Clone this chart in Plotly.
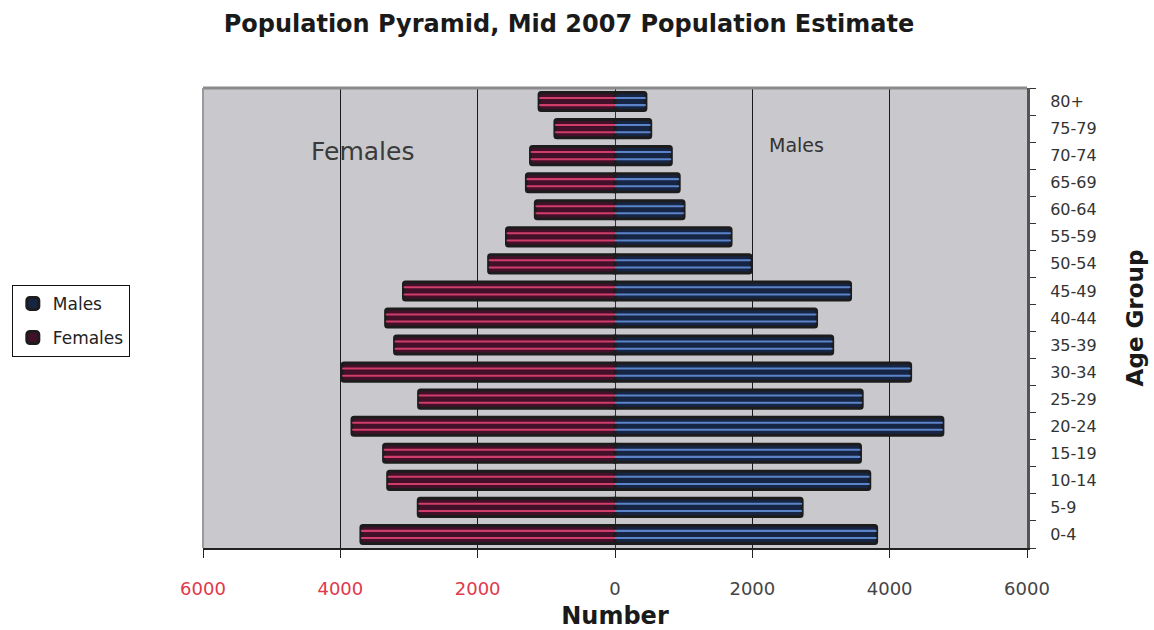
import plotly.graph_objects as go

age_groups = ["0-4", "5-9", "10-14", "15-19", "20-24", "25-29", "30-34", "35-39",
              "40-44", "45-49", "50-54", "55-59", "60-64", "65-69", "70-74", "75-79", "80+"]
males = [3810, 2725, 3710, 3575, 4775, 3600, 4305, 3170, 2935, 3430, 1980, 1690,
         1005, 935, 820, 520, 450]
females = [3700, 2865, 3310, 3370, 3830, 2860, 3975, 3210, 3340, 3080, 1840, 1580,
           1160, 1290, 1230, 875, 1105]
x_tickvals = [-6000, -4000, -2000, 0, 2000, 4000, 6000]
x_ticktext = ["6000", "4000", "2000", "0", "2000", "4000", "6000"]

RED = "#e0384c"
FONT = "DejaVu Sans, Liberation Sans, Arial, sans-serif"

fig = go.Figure()

neg_females = [-v for v in females]

# outer dark bars
fig.add_trace(go.Bar(y=age_groups, x=males, orientation="h", name="Males", width=0.67,
                     legendgroup="m",
                     marker=dict(color="#172544", line=dict(color="#1c1c1c", width=3))))
fig.add_trace(go.Bar(y=age_groups, x=neg_females, orientation="h", name="Females", width=0.67,
                     legendgroup="f",
                     marker=dict(color="#43102a", line=dict(color="#1c1c1c", width=3))))

# inner stripes
for off in (-0.17, 0.095):
    fig.add_trace(go.Bar(y=age_groups, x=males, orientation="h", width=0.075, offset=off,
                         marker=dict(color="#5b84c8", line=dict(width=0)),
                         showlegend=False, hoverinfo="skip"))
    fig.add_trace(go.Bar(y=age_groups, x=neg_females, orientation="h", width=0.075, offset=off,
                         marker=dict(color="#cf3d6a", line=dict(width=0)),
                         showlegend=False, hoverinfo="skip"))

ticktext_colored = [
    (f"<span style='color:{RED}'>{t}</span>" if v < 0 else t)
    for v, t in zip(x_tickvals, x_ticktext)
]

fig.update_layout(
    width=1154, height=630,
    margin=dict(l=203, r=127, t=88, b=82),
    paper_bgcolor="white",
    plot_bgcolor="#c9c9cd",
    barmode="overlay",
    barcornerradius=2,
    font=dict(family=FONT, color="#333333"),
    title=dict(text="<b>Population Pyramid, Mid 2007 Population Estimate</b>",
               x=0.493, xanchor="center", y=0.963, yanchor="middle",
               font=dict(size=24, color="#1a1a1a", family=FONT)),
    legend=dict(x=-0.232, xanchor="left", y=0.572, yanchor="top",
                bgcolor="white", bordercolor="#111111", borderwidth=1,
                font=dict(size=17, color="#222222"), traceorder="grouped",
                itemwidth=30, tracegroupgap=9),
    showlegend=True,
    xaxis=dict(
        range=[-6000, 6000],
        tickvals=x_tickvals, ticktext=ticktext_colored,
        tickfont=dict(size=18, color="#444444"),
        ticks="outside", ticklen=8, tickcolor="#222222",
        ticklabelstandoff=16,
        showline=True, linecolor="#222222", linewidth=1.5,
        showgrid=True, gridcolor="#1a1a1a", gridwidth=1,
        zeroline=True, zerolinecolor="#333333", zerolinewidth=1,
        title=dict(text="<b>Number</b>", font=dict(size=24, color="#1a1a1a"), standoff=9),
        automargin=False, fixedrange=True,
    ),
    yaxis=dict(
        side="right",
        categoryorder="array", categoryarray=age_groups,
        tickfont=dict(size=16, color="#333333"),
        ticks="outside", ticklen=6, tickcolor="#333333", tickson="boundaries",
        ticklabelstandoff=17,
        showline=True, linecolor="#555555", linewidth=3,
        showgrid=False,
        title=dict(text="<b>Age Group</b>", font=dict(size=23, color="#1a1a1a"), standoff=32),
        automargin=False, fixedrange=True,
    ),
    annotations=[
        dict(text="Females", x=0.194, y=0.861, xref="paper", yref="paper",
             xanchor="center", yanchor="middle",
             showarrow=False, font=dict(size=25, color="#3a3a3a")),
        dict(text="Males", x=0.72, y=0.876, xref="paper", yref="paper",
             xanchor="center", yanchor="middle",
             showarrow=False, font=dict(size=19, color="#333333")),
    ],
    shapes=[
        dict(type="line", xref="paper", yref="paper", x0=0, x1=1, y0=1, y1=1,
             line=dict(color="#8a8a8a", width=3)),
        dict(type="line", xref="paper", yref="paper", x0=0, x1=0, y0=0, y1=1,
             line=dict(color="#9a9a9a", width=2)),
    ],
)

fig.write_html("out.html")
